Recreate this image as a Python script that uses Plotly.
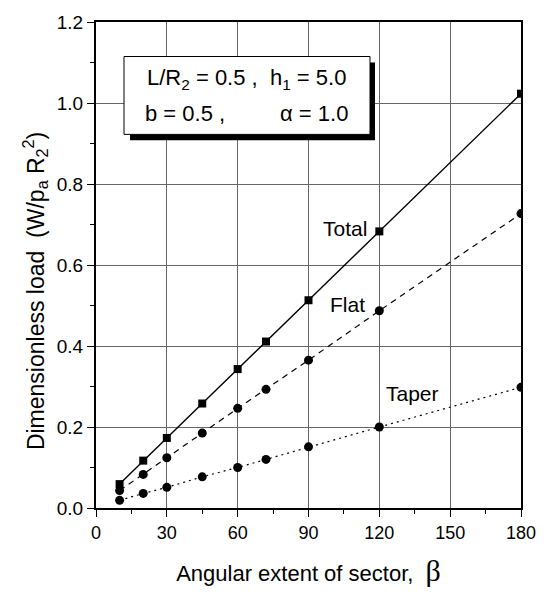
import plotly.graph_objects as go

beta = [10, 20, 30, 45, 60, 72, 90, 120, 180]
total = [0.059, 0.117, 0.173, 0.258, 0.343, 0.411, 0.513, 0.683, 1.023]
flat = [0.043, 0.083, 0.124, 0.185, 0.246, 0.293, 0.365, 0.487, 0.727]
taper = [0.019, 0.036, 0.051, 0.077, 0.100, 0.120, 0.151, 0.200, 0.298]

x_ticks = [0, 30, 60, 90, 120, 150, 180]
y_ticks = [0.0, 0.2, 0.4, 0.6, 0.8, 1.0, 1.2]

FONT = "Liberation Sans, Arial, sans-serif"
L, R, T, B = 96, 521, 15, 508
W, H = R - L, B - T


def px(xp):
    return (xp - L) / W


def py(yp):
    return (B - yp) / H


fig = go.Figure()
fig.add_trace(go.Scatter(x=beta, y=total, mode="lines+markers",
                         line=dict(color="black", width=1.4, dash="solid"),
                         marker=dict(symbol="square", size=8, color="black"),
                         name="Total", showlegend=False))
fig.add_trace(go.Scatter(x=beta, y=flat, mode="lines+markers",
                         line=dict(color="black", width=1.2, dash="6px,5px"),
                         marker=dict(symbol="circle", size=9, color="black"),
                         name="Flat", showlegend=False))
fig.add_trace(go.Scatter(x=beta, y=taper, mode="lines+markers",
                         line=dict(color="black", width=1.2, dash="2px,4px"),
                         marker=dict(symbol="circle", size=9, color="black"),
                         name="Taper", showlegend=False))

# series labels
fig.add_annotation(x=beta[7], y=total[7], text="Total", showarrow=False,
                   xanchor="right", yanchor="middle", xshift=-10, yshift=3,
                   font=dict(size=21, color="black", family=FONT))
fig.add_annotation(x=beta[7], y=flat[7], text="Flat", showarrow=False,
                   xanchor="right", yanchor="middle", xshift=-12, yshift=6,
                   font=dict(size=21, color="black", family=FONT))
fig.add_annotation(x=134, y=0.283, text="Taper", showarrow=False,
                   xanchor="center", yanchor="middle",
                   font=dict(size=21, color="black", family=FONT))

# parameter box shadow + box
fig.add_shape(type="rect", xref="paper", yref="paper",
              x0=px(130), x1=px(375), y0=py(135), y1=py(56),
              fillcolor="black", line=dict(width=0), layer="above")
fig.add_shape(type="rect", xref="paper", yref="paper",
              x0=px(124), x1=px(370), y0=py(129), y1=py(50),
              fillcolor="white", line=dict(color="black", width=1), layer="above")
fig.add_annotation(xref="paper", yref="paper", x=px(246), y=py(73),
                   text="L/R<sub>2</sub> = 0.5 ,  h<sub>1</sub> = 5.0", showarrow=False,
                   xanchor="center", yanchor="middle",
                   font=dict(size=22, color="black", family=FONT))
fig.add_annotation(xref="paper", yref="paper", x=px(143), y=py(108),
                   text="b = 0.5 ,", showarrow=False,
                   xanchor="left", yanchor="middle",
                   font=dict(size=22, color="black", family=FONT))
fig.add_annotation(xref="paper", yref="paper", x=px(350), y=py(108),
                   text="α = 1.0", showarrow=False,
                   xanchor="right", yanchor="middle",
                   font=dict(size=22, color="black", family=FONT))

# y-axis title (placed as rotated annotation to match the reference position)
fig.add_annotation(xref="paper", yref="paper", x=px(35), y=py(288),
                   text="Dimensionless load  (W/p<sub>a</sub> R<sub>2</sub><sup>2</sup>)",
                   textangle=-90, showarrow=False, xanchor="center", yanchor="middle",
                   font=dict(size=23, color="black", family=FONT))

fig.update_xaxes(range=[0, 180], tickvals=x_ticks, ticktext=[str(v) for v in x_ticks],
                 showline=True, linecolor="black", linewidth=2, mirror=True,
                 ticks="outside", ticklen=7, tickwidth=1.2, tickcolor="black",
                 minor=dict(dtick=15, tick0=0, ticks="outside", ticklen=4, tickcolor="black", showgrid=False),
                 showgrid=True, gridcolor="#666666", gridwidth=1, zeroline=False,
                 tickfont=dict(size=18, color="black", family=FONT),
                 title=dict(text="Angular extent of sector,  <span style='font-family:Liberation Serif, serif;font-size:30px'>β</span>",
                            font=dict(size=22, color="black", family=FONT), standoff=24))
fig.update_yaxes(range=[0, 1.2], tickvals=y_ticks, ticktext=[f"{v:.1f}" for v in y_ticks],
                 showline=True, linecolor="black", linewidth=2, mirror=True,
                 ticks="outside", ticklen=7, tickwidth=1.2, tickcolor="black",
                 minor=dict(dtick=0.1, tick0=0, ticks="outside", ticklen=4, tickcolor="black", showgrid=False),
                 showgrid=True, gridcolor="#666666", gridwidth=1, zeroline=False,
                 tickfont=dict(size=19, color="black", family=FONT))

fig.update_layout(width=551, height=599, margin=dict(l=L, r=551 - R, t=T, b=599 - B),
                  plot_bgcolor="white", paper_bgcolor="white", showlegend=False)

fig.write_html("out.html")
